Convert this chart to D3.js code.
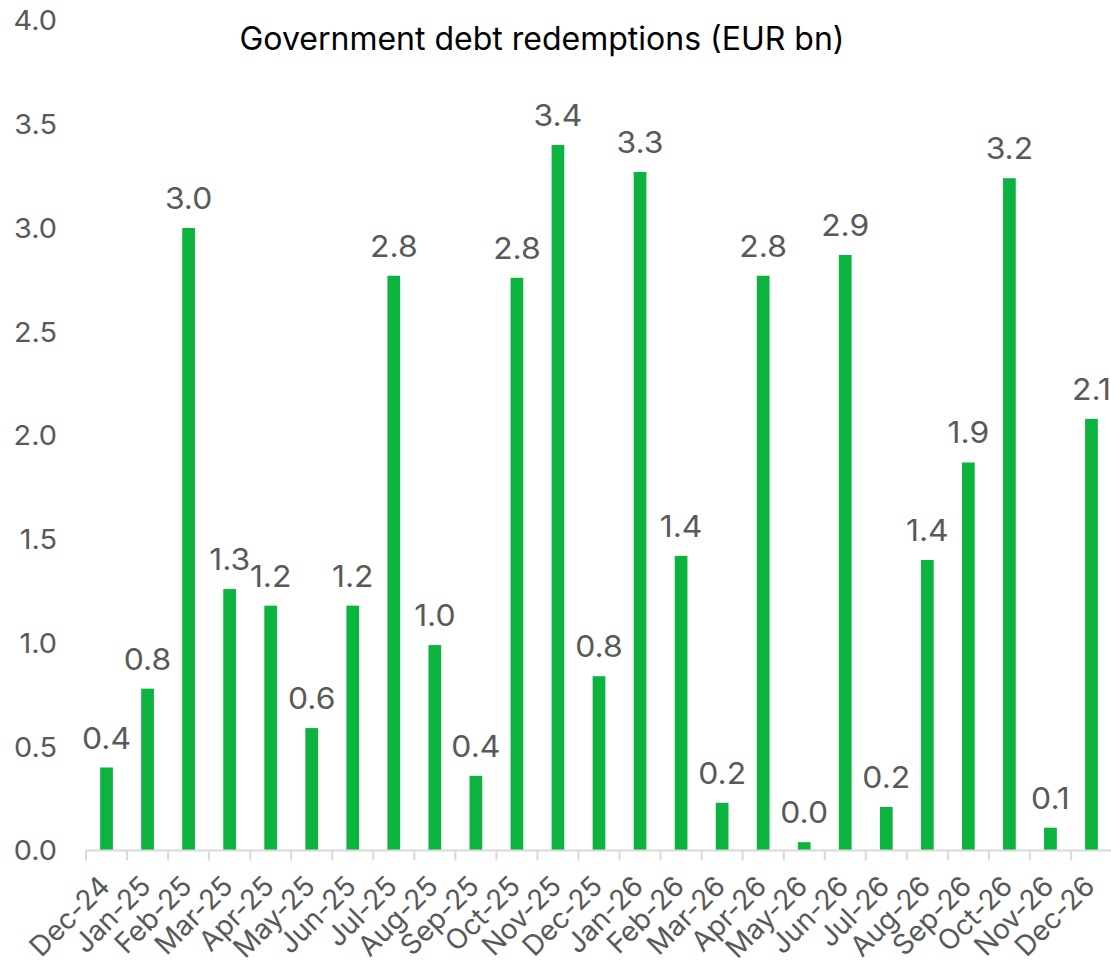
<!DOCTYPE html>
<html>
<head>
<meta charset="utf-8">
<script src="https://cdn.jsdelivr.net/npm/d3@7"></script>
<style>
  html, body { margin: 0; padding: 0; background: #ffffff; }
  svg { display: block; font-family: Inter, "Noto Sans", sans-serif; }
</style>
</head>
<body>
<svg id="chart" width="1111" height="966"></svg>
<script>
// Monthly government debt redemptions, EUR bn
const months = ["Dec-24","Jan-25","Feb-25","Mar-25","Apr-25","May-25","Jun-25","Jul-25",
  "Aug-25","Sep-25","Oct-25","Nov-25","Dec-25","Jan-26","Feb-26","Mar-26","Apr-26",
  "May-26","Jun-26","Jul-26","Aug-26","Sep-26","Oct-26","Nov-26","Dec-26"];
const redemptions = [0.40, 0.78, 3.00, 1.26, 1.18, 0.59, 1.18, 2.77,
  0.99, 0.36, 2.76, 3.40, 0.84, 3.27, 1.42, 0.23, 2.77,
  0.04, 2.87, 0.21, 1.40, 1.87, 3.24, 0.11, 2.08];
const yTicks = [0, 0.5, 1.0, 1.5, 2.0, 2.5, 3.0, 3.5, 4.0];
const title = "Government debt redemptions (EUR bn)";

const svg = d3.select("#chart");
const plot = { left: 86, right: 1112, top: 20.5, bottom: 850.5 };
const labelColor = "#595959";
const barColor = "#0db33f";
const fmt = d3.format(".1f");

const x = d3.scaleBand()
  .domain(months)
  .range([plot.left, plot.right])
  .paddingInner(0.69)
  .paddingOuter(0.345);

const y = d3.scaleLinear()
  .domain([0, 4])
  .range([plot.bottom, plot.top]);

// Title
svg.append("text")
  .attr("x", 542)
  .attr("y", 49.5)
  .attr("text-anchor", "middle")
  .attr("font-size", 32)
  .attr("fill", "#000000")
  .text(title);

// Y axis labels only (no axis line, no gridlines); digits set slightly wide
svg.append("g")
  .selectAll("text")
  .data(yTicks)
  .join("text")
  .attr("transform", (d) => `translate(57,${y(d)}) scale(1.05,1)`)
  .attr("dy", "0.36em")
  .attr("text-anchor", "end")
  .attr("font-size", 27.5)
  .attr("fill", labelColor)
  .text((d) => fmt(d));

// Bars
svg.append("g")
  .selectAll("rect")
  .data(months)
  .join("rect")
  .attr("x", (d) => x(d))
  .attr("width", x.bandwidth())
  .attr("y", (d, i) => y(redemptions[i]))
  .attr("height", (d, i) => y(0) - y(redemptions[i]))
  .attr("fill", barColor);

// Value labels above bars
svg.append("g")
  .selectAll("text")
  .data(months)
  .join("text")
  .attr("transform", (d, i) =>
    `translate(${x(d) + x.bandwidth() / 2},${y(redemptions[i]) - 19}) scale(1.08,1)`)
  .attr("text-anchor", "middle")
  .attr("font-size", 29.5)
  .attr("fill", labelColor)
  .text((d, i) => fmt(redemptions[i]));

// X axis: baseline, boundary ticks between months, rotated labels
const step = x.step();
const boundaries = months.map((d) => x(d) - x.paddingOuter() * step);
const axisG = svg.append("g");
axisG.append("line")
  .attr("x1", plot.left)
  .attr("x2", plot.right)
  .attr("y1", y(0))
  .attr("y2", y(0))
  .attr("stroke", "#d9d9d9")
  .attr("stroke-width", 2);
axisG.selectAll("line.tick")
  .data(boundaries)
  .join("line")
  .attr("class", "tick")
  .attr("x1", (d) => d)
  .attr("x2", (d) => d)
  .attr("y1", y(0))
  .attr("y2", y(0) + 10)
  .attr("stroke", "#d9d9d9")
  .attr("stroke-width", 2);

axisG.selectAll("text")
  .data(months)
  .join("text")
  .attr("transform", (d) => `translate(${x(d) + x.bandwidth() / 2 + 5},888) rotate(-45)`)
  .attr("text-anchor", "end")
  .attr("font-size", 28)
  .attr("fill", labelColor)
  .text((d) => d);
</script>
</body>
</html>
